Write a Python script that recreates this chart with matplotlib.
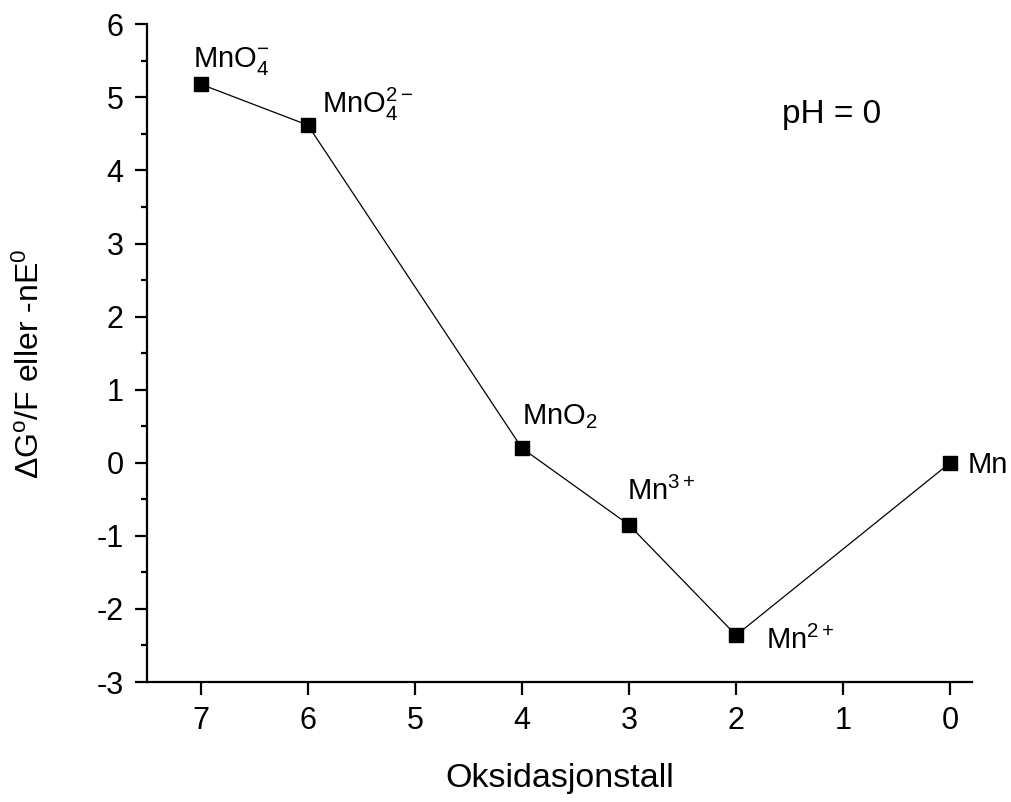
import numpy as np
import matplotlib
matplotlib.use("Agg")
import matplotlib.pyplot as plt

plt.rcParams['font.family'] = ['Liberation Sans', 'DejaVu Sans']
plt.rcParams['mathtext.fontset'] = 'custom'
plt.rcParams['mathtext.rm'] = 'Liberation Sans'
plt.rcParams['mathtext.it'] = 'Liberation Sans'
plt.rcParams['axes.unicode_minus'] = False

# Frost diagram for Mn, pH = 0
ox_state = [7, 6, 4, 3, 2, 0]
nE = [5.18, 4.62, 0.20, -0.85, -2.36, 0.0]
species = [r'MnO$_4^{-}$', r'MnO$_4^{2-}$', r'MnO$_2$', r'Mn$^{3+}$', r'Mn$^{2+}$', 'Mn']
# label offsets in pixels from each point
lab_dx = [-8, 14, 0, -2, 30, 17]
lab_dy = [17, 12, 24, 25, -14, -10]

fig = plt.figure(figsize=(10.11, 8.02), dpi=100)
ax = fig.add_axes([0.1457, 0.1496, 0.8153, 0.8201])

ax.plot(ox_state, nE, color='black', lw=0.9, marker='s', ms=10, mfc='black', mec='black')

for x, y, s, dx, dy in zip(ox_state, nE, species, lab_dx, lab_dy):
    ax.annotate(s, (x, y), xytext=(dx, dy), textcoords='offset pixels',
                ha='left', va='baseline', fontsize=21)

ax.text(1.57, 4.65, 'pH = 0', fontsize=24, ha='left', va='baseline')

ax.set_xlim(7.5, -0.2)
ax.set_ylim(-3, 6)
ax.set_xticks([7, 6, 5, 4, 3, 2, 1, 0])
ax.set_yticks(np.arange(-3, 7, 1))
ax.set_yticks(np.arange(-2.5, 6, 1), minor=True)

for side in ['top', 'right']:
    ax.spines[side].set_visible(False)
for side in ['left', 'bottom']:
    ax.spines[side].set_linewidth(1.6)

ax.tick_params(axis='both', which='major', direction='out', length=9, width=1.6, labelsize=22, pad=8)
ax.tick_params(axis='y', which='minor', direction='out', length=4.5, width=1.6)

ax.set_xlabel('Oksidasjonstall', fontsize=24.5, labelpad=20)
ax.set_ylabel(r'$\Delta$G$^{o}$/F eller -nE$^{0}$', fontsize=23)
ax.yaxis.set_label_coords(-0.123, 0.483)

fig.savefig('out.png', dpi=100)
